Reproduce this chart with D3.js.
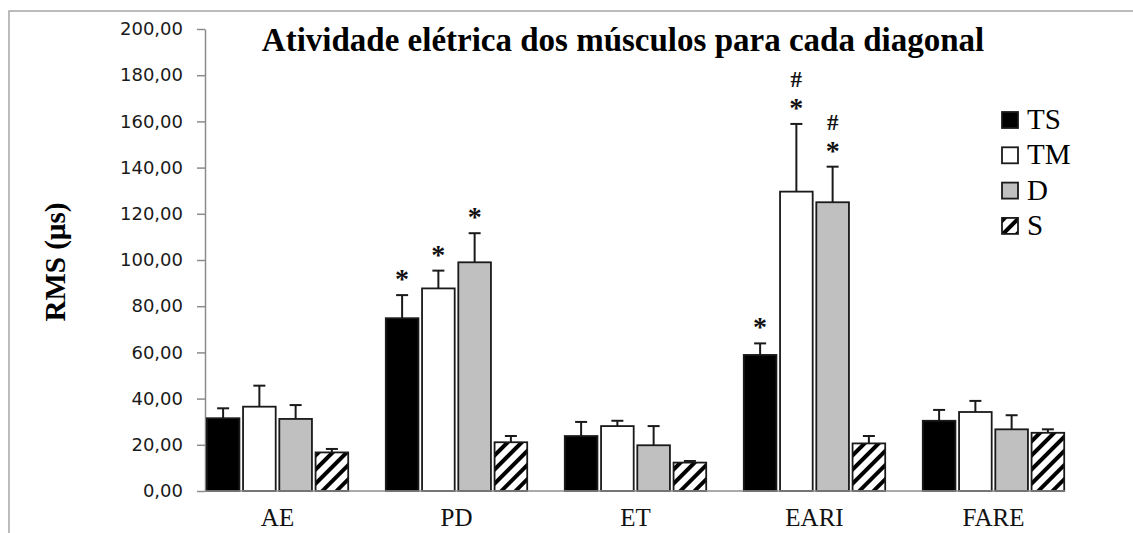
<!DOCTYPE html>
<html>
<head>
<meta charset="utf-8">
<script src="https://cdn.jsdelivr.net/npm/d3@7"></script>
<style>
  body { margin: 0; background: #fff; }
  svg { display: block; }
</style>
</head>
<body>
<svg width="1133" height="533"></svg>
<script>
var categories = ["AE", "PD", "ET", "EARI", "FARE"];
var series = ["TS", "TM", "D", "S"];

// mean RMS per series, in category order
var meanTS = [31.5, 74.8, 23.8, 58.9, 30.4];
var meanTM = [36.5, 87.7, 28.1, 129.6, 34.2];
var meanD = [31.2, 99.0, 19.8, 125.0, 26.7];
var meanS = [16.7, 21.1, 12.3, 20.6, 25.2];

// standard deviation (upper error bar only)
var sdTS = [4.3, 10.0, 6.1, 5.0, 4.7];
var sdTM = [9.1, 7.7, 2.3, 29.3, 4.8];
var sdD = [6.0, 12.6, 8.3, 15.4, 6.1];
var sdS = [1.5, 2.7, 0.7, 3.2, 1.5];

var yTicks = [0, 20, 40, 60, 80, 100, 120, 140, 160, 180, 200];

// significance marks: * and #
var starMarks = [["PD", "TS"], ["PD", "TM"], ["PD", "D"], ["EARI", "TS"], ["EARI", "TM"], ["EARI", "D"]];
var hashMarks = [["EARI", "TM"], ["EARI", "D"]];

var means = { TS: meanTS, TM: meanTM, D: meanD, S: meanS };
var sds = { TS: sdTS, TM: sdTM, D: sdD, S: sdS };

var svg = d3.select("svg");

var x = d3.scaleBand().domain(categories).range([188, 1083]).paddingInner(0.21).paddingOuter(0.105);
var xs = d3.scaleBand().domain(series).range([0, x.bandwidth()]).paddingInner(0.1);
var y = d3.scaleLinear().domain([0, 200]).range([491, 29]);

var fills = { TS: "#000000", TM: "#ffffff", D: "#c0c0c0", S: "url(#hatch)" };

var defs = svg.append("defs");
var pat = defs.append("pattern")
  .attr("id", "hatch")
  .attr("patternUnits", "userSpaceOnUse")
  .attr("width", 10)
  .attr("height", 10)
  .attr("patternTransform", "rotate(45)");
pat.append("rect").attr("width", 10).attr("height", 10).attr("fill", "#fff");
pat.append("rect").attr("x", 0).attr("width", 4).attr("height", 10).attr("fill", "#000");

// chart frame
svg.append("rect")
  .attr("x", 9).attr("y", 11)
  .attr("width", 1140).attr("height", 540)
  .attr("fill", "none")
  .attr("stroke", "#a6a6a6")
  .attr("stroke-width", 1.5);

// y axis
var fmt = function (d) { return d3.format(".2f")(d).replace(".", ","); };
var yAxis = svg.append("g")
  .attr("transform", "translate(205,0)")
  .call(d3.axisLeft(y).tickValues(yTicks).tickFormat(fmt).tickSize(8).tickSizeOuter(0).tickPadding(14));
yAxis.select(".domain").attr("stroke", "#8c8c8c").attr("stroke-width", 1.5);
yAxis.selectAll(".tick line").attr("stroke", "#8c8c8c").attr("stroke-width", 1.5);
yAxis.selectAll(".tick text")
  .attr("fill", "#1a1a1a")
  .style("font-family", "'DejaVu Sans', Verdana, sans-serif")
  .style("font-size", "18px");

// bars
var rows = [];
categories.forEach(function (c, i) {
  series.forEach(function (s) {
    rows.push({ cat: c, ser: s, v: means[s][i], sd: sds[s][i] });
  });
});

var bars = svg.append("g").selectAll("g")
  .data(rows)
  .enter()
  .append("g")
  .attr("transform", function (d) { return "translate(" + (x(d.cat) + xs(d.ser)) + ",0)"; });

bars.append("line")
  .attr("x1", xs.bandwidth() / 2).attr("x2", xs.bandwidth() / 2)
  .attr("y1", function (d) { return y(d.v); })
  .attr("y2", function (d) { return y(d.v + d.sd); })
  .attr("stroke", "#1a1a1a").attr("stroke-width", 2);
bars.append("line")
  .attr("x1", xs.bandwidth() / 2 - 6).attr("x2", xs.bandwidth() / 2 + 6)
  .attr("y1", function (d) { return y(d.v + d.sd); })
  .attr("y2", function (d) { return y(d.v + d.sd); })
  .attr("stroke", "#1a1a1a").attr("stroke-width", 2);

bars.append("rect")
  .attr("x", 0)
  .attr("width", xs.bandwidth())
  .attr("y", function (d) { return y(d.v); })
  .attr("height", function (d) { return y(0) - y(d.v); })
  .attr("fill", function (d) { return fills[d.ser]; })
  .attr("stroke", "#1a1a1a")
  .attr("stroke-width", 1.8);

// x axis
svg.append("line")
  .attr("x1", 205).attr("x2", 1065)
  .attr("y1", y(0)).attr("y2", y(0))
  .attr("stroke", "#8c8c8c").attr("stroke-width", 1.5);

svg.append("g").selectAll("text")
  .data(categories)
  .enter()
  .append("text")
  .attr("x", function (d) { return x(d) + x.bandwidth() / 2; })
  .attr("y", 526)
  .attr("text-anchor", "middle")
  .style("font-family", "'Liberation Serif', 'Times New Roman', serif")
  .style("font-size", "25px")
  .attr("fill", "#111")
  .text(function (d) { return d; });

// significance marks
function markX(m) { return x(m[0]) + xs(m[1]) + xs.bandwidth() / 2; }
function markTop(m) {
  var i = categories.indexOf(m[0]);
  return y(means[m[1]][i] + sds[m[1]][i]);
}
svg.append("g").selectAll("text")
  .data(starMarks)
  .enter()
  .append("text")
  .attr("x", markX)
  .attr("y", function (m) { return markTop(m) - 7; })
  .attr("text-anchor", "middle")
  .style("font-family", "'Liberation Serif', 'Times New Roman', serif")
  .style("font-weight", "bold")
  .style("font-size", "28px")
  .attr("fill", "#111")
  .text("*");
svg.append("g").selectAll("text")
  .data(hashMarks)
  .enter()
  .append("text")
  .attr("x", markX)
  .attr("y", function (m) { return markTop(m) - 37; })
  .attr("text-anchor", "middle")
  .style("font-family", "'Liberation Serif', 'Times New Roman', serif")
  .style("font-weight", "bold")
  .style("font-size", "23px")
  .attr("fill", "#111")
  .text("#");

// title
svg.append("text")
  .attr("x", 623).attr("y", 51)
  .attr("text-anchor", "middle")
  .style("font-family", "'Liberation Serif', 'Times New Roman', serif")
  .style("font-weight", "bold")
  .style("font-size", "33px")
  .attr("fill", "#000")
  .text("Atividade elétrica dos músculos para cada diagonal");

// y label
svg.append("text")
  .attr("transform", "translate(65,262) rotate(-90)")
  .attr("text-anchor", "middle")
  .style("font-family", "'Liberation Serif', 'Times New Roman', serif")
  .style("font-weight", "bold")
  .style("font-size", "29px")
  .attr("fill", "#000")
  .text("RMS  (µs)");

// legend
var leg = svg.append("g").selectAll("g")
  .data(series)
  .enter()
  .append("g")
  .attr("transform", function (d, i) { return "translate(1002," + (112 + i * 35.3) + ")"; });
leg.append("rect")
  .attr("width", 16).attr("height", 16)
  .attr("fill", function (d) { return fills[d]; })
  .attr("stroke", "#1a1a1a")
  .attr("stroke-width", 1.8);
leg.append("text")
  .attr("x", 25).attr("y", 17)
  .style("font-family", "'Liberation Serif', 'Times New Roman', serif")
  .style("font-size", "29px")
  .attr("fill", "#000")
  .text(function (d) { return d; });
</script>
</body>
</html>
